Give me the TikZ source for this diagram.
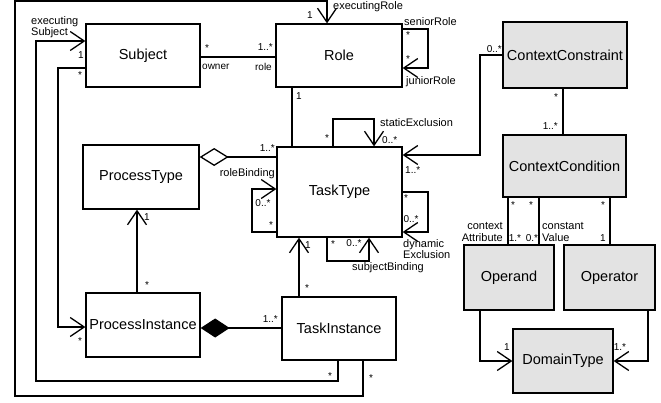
\documentclass[tikz,border=0pt]{standalone}
\usepackage{fontspec}
\setmainfont{Liberation Sans}
\usetikzlibrary{arrows.meta}
\begin{document}
\begin{tikzpicture}[x=1pt,y=-1pt,
  box/.style={draw, line width=1.3pt, inner sep=0pt, font=\fontsize{14.5}{17}\selectfont},
  gbox/.style={box, fill=black!11},
  conn/.style={line width=1.3pt},
  nav/.style={conn, -{Straight Barb[length=14pt,width=19pt]}},
  mult/.style={inner sep=0pt, font=\fontsize{10}{11}\selectfont},
  rolel/.style={inner sep=0pt, font=\fontsize{11}{11.5}\selectfont},
]
\useasboundingbox (0,0) rectangle (661,402);
\fill[white] (0,0) rectangle (661,402);

% classes
\node[box, minimum width=114pt, minimum height=63pt] (subject) at (143,55.5) {Subject};
\node[box, minimum width=126pt, minimum height=63pt] (role) at (339,55.5) {Role};
\node[gbox, minimum width=124pt, minimum height=66pt] (cc) at (565,55) {ContextConstraint};
\node[box, minimum width=116pt, minimum height=64pt] (pt) at (141,177) {ProcessType};
\node[box, minimum width=125pt, minimum height=90pt] (tt) at (339.5,192) {TaskType};
\node[gbox, minimum width=123pt, minimum height=62pt] (ccond) at (564.5,166) {ContextCondition};
\node[gbox, minimum width=90pt, minimum height=65pt] (operand) at (509,277.5) {Operand};
\node[gbox, minimum width=91pt, minimum height=65pt] (operator) at (609.5,277.5) {Operator};
\node[box, minimum width=114pt, minimum height=64pt] (pi) at (143,325) {ProcessInstance};
\node[box, minimum width=114pt, minimum height=63pt] (ti) at (339,328.5) {TaskInstance};
\node[gbox, minimum width=100pt, minimum height=64pt] (dt) at (563,361) {DomainType};

% connectors
\draw[conn] (subject.east |- 0,57) -- (role.west |- 0,57);
\draw[nav] (role.east |- 0,29) -| (428,68) -- (role.east |- 0,68);
\draw[conn] (role.south -| 292,0) -- (tt.north -| 292,0);
\draw[nav] (cc.west |- 0,55) -| (480,155) -- (tt.east |- 0,155);
\draw[conn] (cc.south -| 563,0) -- (ccond.north -| 563,0);
\draw[nav] (tt.north -| 333,0) |- (374,119) -- (tt.north -| 374,0);
\draw[conn, {Diamond[open,length=29pt,width=18pt]}-] (pt.east |- 0,157) -- (tt.west |- 0,157);
\draw[nav] (tt.west |- 0,232) -| (252,189) -- (tt.west |- 0,189);
\draw[nav] (tt.east |- 0,192) -| (428,232) -- (tt.east |- 0,232);
\draw[nav] (tt.south -| 327,0) |- (369,261) -- (tt.south -| 369,0);
\draw[nav] (ti.north -| 299,0) -- (tt.south -| 299,0);
\draw[nav] (pi.north -| 137,0) -- (pt.south -| 137,0);
\draw[conn, {Diamond[length=29pt,width=19pt]}-] (pi.east |- 0,328) -- (ti.west |- 0,328);
\draw[nav] (subject.west |- 0,68) -| (58,327) -- (pi.west |- 0,327);
\draw[nav] (ti.south -| 338,0) |- (36,381) |- (subject.west |- 0,41);
\draw[nav] (ti.south -| 363,0) |- (15,396) |- (327,1) -- (role.north -| 327,0);
\draw[conn] (ccond.south -| 508,0) -- (operand.north -| 508,0);
\draw[conn] (ccond.south -| 539,0) -- (operand.north -| 539,0);
\draw[conn] (ccond.south -| 610,0) -- (operator.north -| 610,0);
\draw[nav] (operand.south -| 480,0) |- (dt.west |- 0,361);
\draw[nav] (operator.south -| 648,0) |- (dt.east |- 0,361);

% role names
\node[rolel, anchor=north west, align=left] (lexs) at (31,16) {executing\\Subject};
\node[rolel, anchor=base west] (lexr) at (333,9.5) {executingRole};
\node[rolel, anchor=west] (lsen) at (404,22) {seniorRole};
\node[rolel, anchor=west] (ljun) at (406,82) {juniorRole};
\node[rolel, anchor=west] (lstat) at (380,123) {staticExclusion};
\node[rolel, anchor=east] (lrb) at (275,174) {roleBinding};
\node[rolel, anchor=north west, align=left] (ldyn) at (403,239) {dynamic\\Exclusion};
\node[rolel] (lsb) at (388,268) {subjectBinding};
\node[rolel, anchor=east, align=right] (lctx) at (503,232) {context\\Attribute};
\node[rolel, anchor=west, align=left] (lconst) at (542,232) {constant\\Value};
\node[mult, anchor=west] (lown) at (202,67) {owner};
\node[mult, anchor=east] (lrole) at (272,67) {role};

% multiplicities
\node[mult] (m1) at (81,55) {1};
\node[mult] (m2) at (80,75) {*};
\node[mult] (m3) at (207,48) {*};
\node[mult, anchor=east] (m4) at (273,47) {1..*};
\node[mult] (m5) at (310,15) {1};
\node[mult] (m6) at (408,35) {*};
\node[mult] (m7) at (408,59) {*};
\node[mult] (m8) at (299,96) {1};
\node[mult, anchor=east] (m9) at (502,49) {0..*};
\node[mult] (m10) at (556,97) {*};
\node[mult, anchor=east] (m11) at (558,126) {1..*};
\node[mult] (m12) at (327,138) {*};
\node[mult, anchor=west] (m13) at (382,140) {0..*};
\node[mult, anchor=west] (m14) at (405,170) {1..*};
\node[mult, anchor=east] (m15) at (275,148) {1..*};
\node[mult] (m16) at (263,203) {0..*};
\node[mult] (m17) at (271,225) {*};
\node[mult] (m18) at (406,198) {*};
\node[mult] (m19) at (411,219) {0..*};
\node[mult] (m20) at (333,244) {*};
\node[mult] (m21) at (354,243) {0..*};
\node[mult] (m22) at (308,245) {1};
\node[mult] (m23) at (307,288) {*};
\node[mult] (m24) at (147,217) {1};
\node[mult] (m25) at (147,285) {*};
\node[mult, anchor=east] (m26) at (278,319) {1..*};
\node[mult] (m27) at (80,341) {*};
\node[mult] (m28) at (330,376) {*};
\node[mult] (m29) at (371,378) {*};
\node[mult] (m30) at (513,205) {*};
\node[mult] (m31) at (531,205) {*};
\node[mult] (m32) at (603,205) {*};
\node[mult] (m33) at (515,238) {1.*};
\node[mult] (m34) at (532,238) {0.*};
\node[mult] (m35) at (603,238) {1};
\node[mult] (m36) at (507,347) {1};
\node[mult] (m37) at (620,347) {1.*};
\end{tikzpicture}
\end{document}
